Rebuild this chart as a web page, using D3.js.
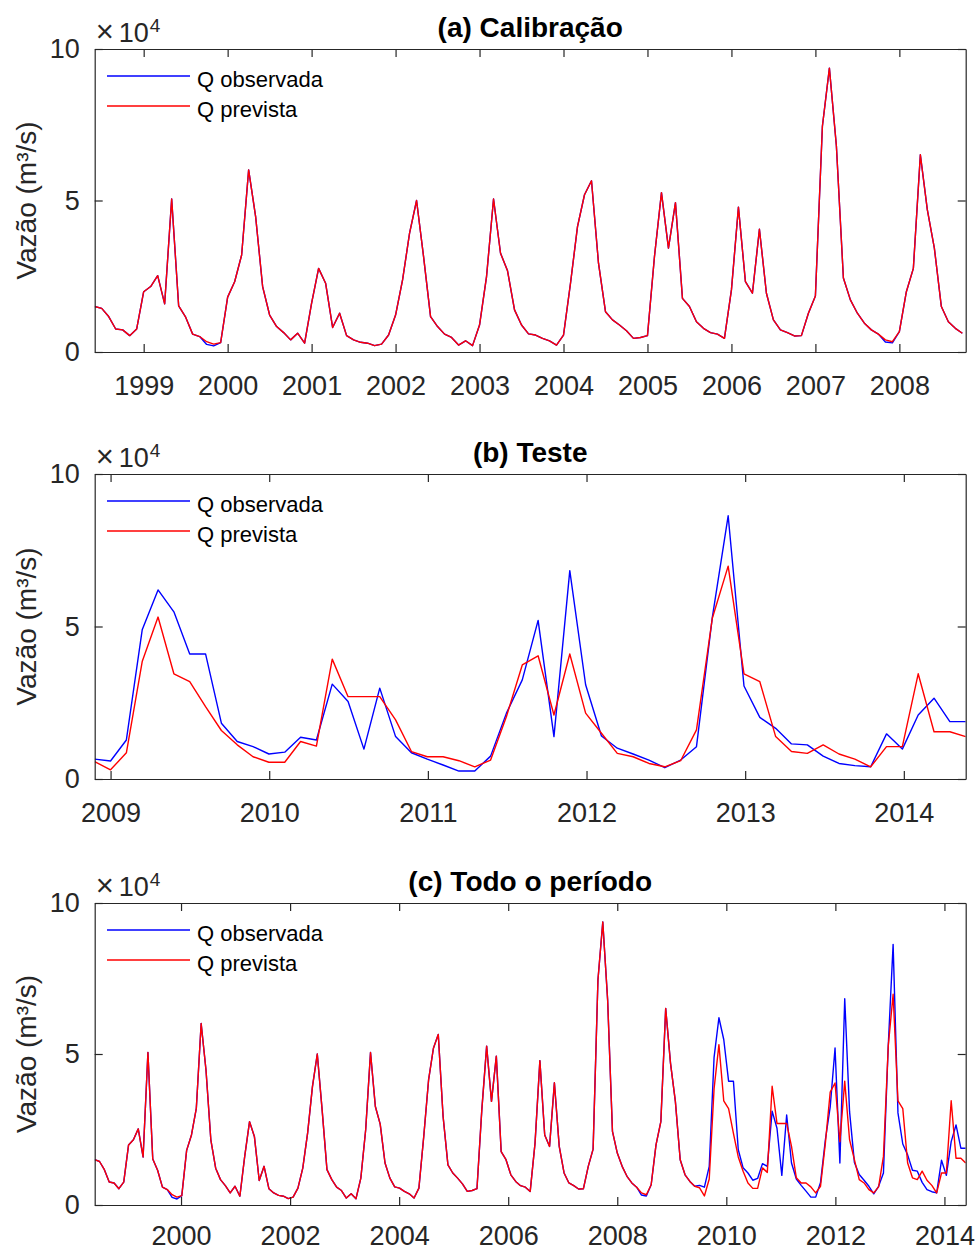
<!DOCTYPE html>
<html>
<head>
<meta charset="utf-8">
<script src="https://cdn.jsdelivr.net/npm/d3@7"></script>
<style>
  html, body { margin: 0; padding: 0; background: #fff; }
  svg { display: block; }
  text { font-family: "Liberation Sans", Arial, Helvetica, sans-serif; }
</style>
</head>
<body>
<svg id="chart" width="977" height="1252"></svg>
<script>
// Discharge, calibration period (x 10^4 m³/s), first value June 1998
const calibStart = 1998 + 5 / 12;
const calibStep = 1 / 12;
const calibPredicted = [
  1.50, 1.44, 1.17, 0.76, 0.73, 0.54, 0.76, 1.99, 2.16, 2.52,
  1.59, 5.05, 1.52, 1.15, 0.59, 0.51, 0.34, 0.26, 0.31, 1.81,
  2.32, 3.20, 6.01, 4.47, 2.16, 1.22, 0.84, 0.64, 0.40, 0.62,
  0.29, 1.61, 2.76, 2.27, 0.81, 1.28, 0.54, 0.40, 0.32, 0.29,
  0.21, 0.26, 0.56, 1.22, 2.38, 3.92, 5.00, 3.15, 1.17, 0.84,
  0.59, 0.48, 0.23, 0.37, 0.21, 0.89, 2.49, 5.05, 3.26, 2.68,
  1.39, 0.89, 0.60, 0.56, 0.45, 0.37, 0.23, 0.56, 2.27, 4.14,
  5.19, 5.65, 2.93, 1.33, 1.06, 0.89, 0.70, 0.45, 0.48, 0.54,
  3.15, 5.26, 3.43, 4.93, 1.77, 1.50, 1.00, 0.78, 0.64, 0.59,
  0.45, 2.05, 4.78, 2.32, 1.94, 4.05, 1.94, 1.06, 0.73, 0.64,
  0.53, 0.54, 1.28, 1.85, 7.45, 9.37, 6.80, 2.44, 1.72, 1.28,
  0.95, 0.73, 0.59, 0.40, 0.34, 0.67, 1.99, 2.76, 6.51, 4.69,
  3.43, 1.50, 1.00, 0.78, 0.62
];
const calibObserved = [
  1.50, 1.44, 1.17, 0.76, 0.73, 0.54, 0.76, 1.99, 2.16, 2.52,
  1.59, 5.05, 1.52, 1.15, 0.59, 0.51, 0.25, 0.20, 0.31, 1.81,
  2.32, 3.20, 6.01, 4.47, 2.16, 1.22, 0.84, 0.64, 0.40, 0.62,
  0.29, 1.61, 2.76, 2.27, 0.81, 1.28, 0.54, 0.40, 0.32, 0.29,
  0.21, 0.26, 0.56, 1.22, 2.38, 3.92, 5.00, 3.15, 1.17, 0.84,
  0.59, 0.48, 0.23, 0.37, 0.21, 0.89, 2.49, 5.05, 3.26, 2.68,
  1.39, 0.89, 0.60, 0.56, 0.45, 0.37, 0.23, 0.56, 2.27, 4.14,
  5.19, 5.65, 2.93, 1.33, 1.06, 0.89, 0.70, 0.45, 0.48, 0.54,
  3.15, 5.26, 3.43, 4.93, 1.77, 1.50, 1.00, 0.78, 0.64, 0.59,
  0.45, 2.05, 4.78, 2.32, 1.94, 4.05, 1.94, 1.06, 0.73, 0.64,
  0.53, 0.54, 1.28, 1.85, 7.45, 9.37, 6.80, 2.44, 1.72, 1.28,
  0.95, 0.73, 0.59, 0.33, 0.30, 0.67, 1.99, 2.76, 6.51, 4.69,
  3.43, 1.50, 1.00, 0.78, 0.62
];

// Discharge, test period (x 10^4 m³/s)
const testStart = 2008.90;
const testEnd = 2014.39;
const testObserved = [
  0.65, 0.59, 1.28, 4.89, 6.20, 5.48, 4.10, 4.10, 1.83, 1.23,
  1.06, 0.82, 0.88, 1.37, 1.28, 3.11, 2.54, 0.98, 2.98, 1.39,
  0.86, 0.65, 0.46, 0.26, 0.26, 0.75, 2.16, 3.25, 5.20, 1.39,
  6.83, 3.09, 1.41, 1.01, 0.82, 0.62, 0.37, 0.62, 1.06, 5.30,
  8.63, 3.05, 2.02, 1.66, 1.15, 1.12, 0.75, 0.51, 0.44, 0.40,
  1.48, 0.98, 2.10, 2.65, 1.88, 1.88
];
const testPredicted = [
  0.57, 0.30, 0.86, 3.85, 5.31, 3.45, 3.19, 2.37, 1.59, 1.12,
  0.73, 0.55, 0.55, 1.23, 1.08, 3.93, 2.70, 2.70, 2.70, 1.94,
  0.90, 0.73, 0.73, 0.60, 0.40, 0.62, 2.05, 3.74, 4.04, 2.10,
  4.10, 2.16, 1.50, 0.84, 0.73, 0.51, 0.40, 0.60, 1.61, 5.27,
  6.98, 3.45, 3.19, 1.39, 0.90, 0.84, 1.12, 0.82, 0.65, 0.40,
  1.06, 1.06, 3.45, 1.55, 1.55, 1.39
];

const yTicks = [0, 5, 10];
const yearTicksA = [1999, 2000, 2001, 2002, 2003, 2004, 2005, 2006, 2007, 2008];
const yearTicksB = [2009, 2010, 2011, 2012, 2013, 2014];
const yearTicksC = [2000, 2002, 2004, 2006, 2008, 2010, 2012, 2014];

const titles = ["(a) Calibração", "(b) Teste", "(c) Todo o período"];
const legendLabels = ["Q observada", "Q prevista"];
const yLabel = "Vazão (m³/s)";

// Attach a regular time stamp to every value
const toSeries = (vals, start, step) => vals.map((v, i) => ({ t: start + i * step, v }));
const testStep = (testEnd - testStart) / (testObserved.length - 1);

// The full-period panel spreads the joined record evenly over its whole span
const allObserved = calibObserved.concat(testObserved);
const allPredicted = calibPredicted.concat(testPredicted);
const allStep = (testEnd - calibStart) / (allObserved.length - 1);

const panels = [
  { title: titles[0], top: 49, bottom: 352, domain: [calibStart, 2008.79], ticks: yearTicksA,
    obs: toSeries(calibObserved, calibStart, calibStep),
    pred: toSeries(calibPredicted, calibStart, calibStep), pad: 24 },
  { title: titles[1], top: 474, bottom: 779, domain: [testStart, testEnd], ticks: yearTicksB,
    obs: toSeries(testObserved, testStart, testStep),
    pred: toSeries(testPredicted, testStart, testStep), pad: 24 },
  { title: titles[2], top: 903, bottom: 1205, domain: [calibStart, testEnd], ticks: yearTicksC,
    obs: toSeries(allObserved, calibStart, allStep),
    pred: toSeries(allPredicted, calibStart, allStep), pad: 21 }
];

const left = 94.7, right = 965.7;
const axisColor = "#262626";
const svg = d3.select("#chart");

panels.forEach(p => {
  const x = d3.scaleLinear().domain(p.domain).range([left, right]);
  const y = d3.scaleLinear().domain([0, 10]).range([p.bottom, p.top]);
  const g = svg.append("g");

  // series
  const line = d3.line().x(d => x(d.t)).y(d => y(d.v));
  const clipId = "clip" + p.top;
  g.append("clipPath").attr("id", clipId).append("rect")
    .attr("x", left).attr("y", p.top).attr("width", right - left).attr("height", p.bottom - p.top);
  const lines = g.append("g").attr("clip-path", `url(#${clipId})`);
  lines.append("path").datum(p.obs).attr("d", line)
    .attr("fill", "none").attr("stroke", "#0000ff").attr("stroke-width", 1.4).attr("stroke-linejoin", "round");
  lines.append("path").datum(p.pred).attr("d", line)
    .attr("fill", "none").attr("stroke", "#ff0000").attr("stroke-width", 1.4).attr("stroke-linejoin", "round");

  // axes: ticks point inward, box closed on all four sides
  const styleAxis = sel => {
    sel.selectAll("path.domain").attr("stroke", axisColor).attr("stroke-width", 1.2);
    sel.selectAll(".tick line").attr("stroke", axisColor).attr("stroke-width", 1.2);
    sel.selectAll("text").attr("fill", axisColor).attr("font-size", 27)
      .attr("font-family", "'Liberation Sans', Arial, sans-serif");
  };
  g.append("g").attr("transform", `translate(0,${p.bottom})`)
    .call(d3.axisBottom(x).tickValues(p.ticks).tickFormat(d3.format("d"))
      .tickSizeInner(-8).tickSizeOuter(0).tickPadding(p.pad))
    .call(styleAxis);
  g.append("g").attr("transform", `translate(0,${p.top})`)
    .call(d3.axisTop(x).tickValues(p.ticks).tickFormat("").tickSizeInner(-8).tickSizeOuter(0))
    .call(styleAxis);
  g.append("g").attr("transform", `translate(${left},0)`)
    .call(d3.axisLeft(y).tickValues(yTicks).tickFormat(d3.format("d"))
      .tickSizeInner(-8).tickSizeOuter(0).tickPadding(15))
    .call(styleAxis);
  g.append("g").attr("transform", `translate(${right},0)`)
    .call(d3.axisRight(y).tickValues(yTicks).tickFormat("").tickSizeInner(-8).tickSizeOuter(0))
    .call(styleAxis);

  // exponent label
  const ex = g.append("text").attr("x", left + 1).attr("y", p.top - 7.5)
    .attr("fill", axisColor).attr("font-size", 27);
  ex.append("tspan").attr("font-size", 31).text("×");
  ex.append("tspan").attr("dx", 5).text("10");
  ex.append("tspan").attr("font-size", 19).attr("dx", 1).attr("dy", -10).text("4");

  // title
  g.append("text").attr("x", (left + right) / 2).attr("y", p.top - 12.5)
    .attr("text-anchor", "middle").attr("font-size", 28).attr("font-weight", "bold")
    .attr("fill", "#000").text(p.title);

  // y label
  g.append("text")
    .attr("transform", `translate(36,${(p.top + p.bottom) / 2}) rotate(-90)`)
    .attr("text-anchor", "middle").attr("font-size", 28).attr("fill", axisColor)
    .text(yLabel);

  // legend
  const colors = ["#0000ff", "#ff0000"];
  legendLabels.forEach((lab, i) => {
    const ly = p.top + 27 + i * 30;
    g.append("line").attr("x1", 107).attr("x2", 190).attr("y1", ly).attr("y2", ly)
      .attr("stroke", colors[i]).attr("stroke-width", 1.4);
    g.append("text").attr("x", 197).attr("y", ly + 10.5).attr("font-size", 22)
      .attr("fill", "#000").text(lab);
  });
});
</script>
</body>
</html>
